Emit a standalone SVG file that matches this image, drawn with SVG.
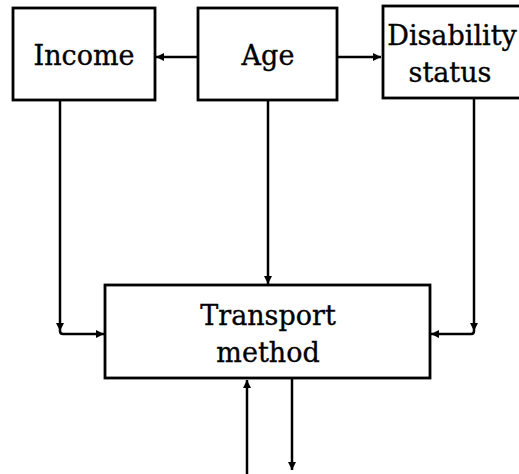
<svg xmlns="http://www.w3.org/2000/svg" width="519" height="474" viewBox="0 0 519 474">
<style>
.box{fill:#fff;stroke:#000;stroke-width:2.8}
.t{font-family:"DejaVu Serif","Liberation Serif",serif;font-size:27px;fill:#000;stroke:#000;stroke-width:0.35;text-anchor:middle}
.c{fill:none;stroke:#000;stroke-width:2.5}
</style>
<defs>
<marker id="ah" viewBox="0 0 10 10" refX="10" refY="5" markerWidth="9" markerHeight="8" markerUnits="userSpaceOnUse" orient="auto">
<path d="M0,0 L10,5 L0,10 Z" fill="#000"/>
</marker>
</defs>
<rect width="519" height="474" fill="#fff"/>
<g id="connectors">
<path class="c" d="M198,57 H156" marker-end="url(#ah)"/>
<path class="c" d="M337,57 H381" marker-end="url(#ah)"/>
<path class="c" d="M268,100 V284" marker-end="url(#ah)"/>
<path class="c" d="M60,100 V331" marker-end="url(#ah)"/>
<path class="c" d="M60,331 Q60,334 63,334 H104" marker-end="url(#ah)"/>
<path class="c" d="M474,98 V331" marker-end="url(#ah)"/>
<path class="c" d="M474,331 Q474,334 471,334 H431" marker-end="url(#ah)"/>
<path class="c" d="M247,474 V380" marker-end="url(#ah)"/>
<path class="c" d="M292,379 V470" marker-end="url(#ah)"/>
</g>
<g id="income">
<rect class="box" x="13" y="8" width="142" height="92"/>
<text class="t" x="84" y="65">Income</text>
</g>
<g id="age">
<rect class="box" x="198" y="8" width="139" height="92"/>
<text class="t" x="268" y="65">Age</text>
</g>
<g id="disability">
<rect class="box" x="383" y="6" width="140" height="92"/>
<text class="t" x="452" y="45">Disability</text>
<text class="t" x="450" y="82">status</text>
</g>
<g id="transport">
<rect class="box" x="105" y="285" width="325" height="93"/>
<text class="t" x="268" y="325">Transport</text>
<text class="t" x="268" y="362">method</text>
</g>
</svg>
